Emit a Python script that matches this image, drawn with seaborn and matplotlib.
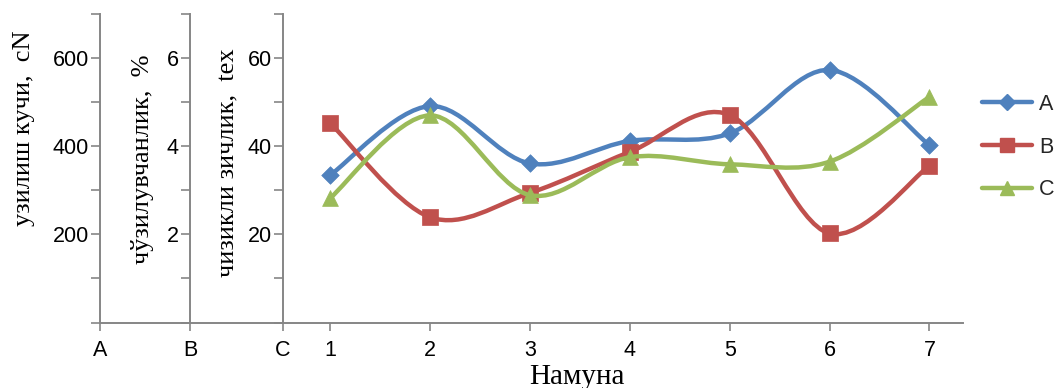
import numpy as np
import pandas as pd
import matplotlib
matplotlib.use("Agg")
import matplotlib.pyplot as plt
import seaborn as sns
from matplotlib.path import Path
from matplotlib.patches import PathPatch
from matplotlib.lines import Line2D
from matplotlib.ticker import FixedLocator, FixedFormatter

# Sample numbers and measured properties
samples = [1, 2, 3, 4, 5, 6, 7]
force_cN = [334, 491, 361, 412, 429, 573, 402]               # A: узилиш кучи, cN
elongation_pct = [4.53, 2.39, 2.94, 3.87, 4.71, 2.02, 3.56]  # B: чўзилувчанлик, %
density_tex = [28.2, 47.0, 28.9, 37.5, 35.9, 36.5, 51.2]     # C: чизикли зичлик, tex

series_names = ["A", "B", "C"]
axis_labels = ["узилиш кучи,  cN", "чўзилувчанлик,  %", "чизикли зичлик,  tex"]
axis_max = [700, 7, 70]
axis_step = [100, 1, 10]
axis_label_vals = [[200, 400, 600], [2, 4, 6], [20, 40, 60]]
x_title = "Намуна"

colors = ["#4F81BD", "#C0504D", "#9BBB59"]
markers = ["D", "s", "^"]
marker_sizes = [80, 120, 130]

sns.set_style("ticks")
plt.rcParams["font.family"] = ["Liberation Sans", "DejaVu Sans"]

fig = plt.figure(figsize=(10.59, 3.88), dpi=100)
W, H = 1059, 388
left_px, right_px, bottom_px, top_px = 100, 963, 322.5, 14
ax = fig.add_axes([left_px / W, 1 - bottom_px / H,
                   (right_px - left_px) / W, (bottom_px - top_px) / H])

# x positions (data units) of the three value axes
px_per_unit = 99.9
x_A = 1 - (330 - 100) / px_per_unit
x_B = 1 - (330 - 190) / px_per_unit
x_C = 1 - (330 - 283) / px_per_unit
x_right = 7 + (963 - 929.5) / px_per_unit

ax2 = ax.twinx()
ax3 = ax.twinx()
axes = [ax, ax2, ax3]
spine_pos = [x_A, x_B, x_C]

spine_color = "#868686"
for a, pos, mx, st, lv in zip(axes, spine_pos, axis_max, axis_step, axis_label_vals):
    a.set_xlim(x_A, x_right)
    a.set_ylim(0, mx)
    for s in ["top", "right", "bottom", "left"]:
        a.spines[s].set_visible(False)
    a.spines["left"].set_visible(True)
    a.spines["left"].set_position(("data", pos))
    a.spines["left"].set_color(spine_color)
    a.spines["left"].set_linewidth(1.4)
    a.yaxis.set_ticks_position("left")
    a.yaxis.set_label_position("left")
    ticks = np.arange(0, mx + st / 2, st)
    a.yaxis.set_major_locator(FixedLocator(ticks))
    labs = []
    for t in ticks:
        hit = [v for v in lv if abs(v - t) < 1e-9]
        labs.append(f"{hit[0]:g}" if hit else "")
    a.yaxis.set_major_formatter(FixedFormatter(labs))
    a.tick_params(axis="y", direction="out", length=6.5, width=1.2, color=spine_color,
                  labelsize=15.5, labelcolor="black", pad=1.5)

ax.spines["bottom"].set_visible(True)
ax.spines["bottom"].set_color(spine_color)
ax.spines["bottom"].set_linewidth(1.4)
xt = [x_A, x_B, x_C] + samples
xl = series_names + [str(s) for s in samples]
ax.set_xticks(xt)
ax.set_xticklabels(xl)
ax.tick_params(axis="x", direction="out", length=6, width=1.2, color=spine_color,
               labelsize=15.5, labelcolor="black", pad=6.5)
for a in (ax2, ax3):
    a.tick_params(axis="x", bottom=False, labelbottom=False)


def smooth_path(x, y):
    pts = np.column_stack([x, y]).astype(float)
    n = len(pts)
    verts = [pts[0]]
    codes = [Path.MOVETO]
    for i in range(n - 1):
        p0 = pts[i - 1] if i > 0 else pts[i]
        p1 = pts[i]
        p2 = pts[i + 1]
        p3 = pts[i + 2] if i + 2 < n else pts[i + 1]
        verts += [p1 + (p2 - p0) / 6, p2 - (p3 - p1) / 6, p2]
        codes += [Path.CURVE4] * 3
    return Path(verts, codes)


df = pd.DataFrame({"sample": samples, "A": force_cN, "B": elongation_pct, "C": density_tex})
for a, name, col, mk, ms in zip(axes, series_names, colors, markers, marker_sizes):
    a.add_patch(PathPatch(smooth_path(df["sample"], df[name]), facecolor="none",
                          edgecolor=col, lw=3.2, capstyle="round", joinstyle="round",
                          zorder=2))
    sns.scatterplot(data=df, x="sample", y=name, ax=a, marker=mk, s=ms, color=col,
                    edgecolor=col, linewidth=0.5, zorder=3, legend=False)
    a.set_xlabel("")
    a.set_ylabel("")

# rotated axis titles
serif = ["Liberation Serif", "DejaVu Serif"]
label_x = [24 / W, 143 / W, 228 / W]
label_y = [1 - 128.5 / H, 1 - 159 / H, 1 - 162.5 / H]
for t, lx, ly in zip(axis_labels, label_x, label_y):
    fig.text(lx, ly, t, rotation=90, ha="center", va="center", fontsize=19,
             family=serif, color="black")

fig.text(577 / W, 1 - 384 / H, x_title, ha="center", va="baseline", fontsize=21,
         family=serif, color="black")

handles = [Line2D([0], [0], color=c, lw=3.2, marker=m, markersize=ms,
                  markerfacecolor=c, markeredgecolor=c)
           for c, m, ms in zip(colors, markers, [8, 10, 10])]
fig.legend(handles, series_names, loc="upper left", bbox_to_anchor=(982 / W, 1 - 94 / H),
           frameon=False, fontsize=15.5, handlelength=2.3, labelspacing=1.0,
           handletextpad=0.35, borderpad=0, borderaxespad=0)

fig.savefig("out.png", dpi=100)
